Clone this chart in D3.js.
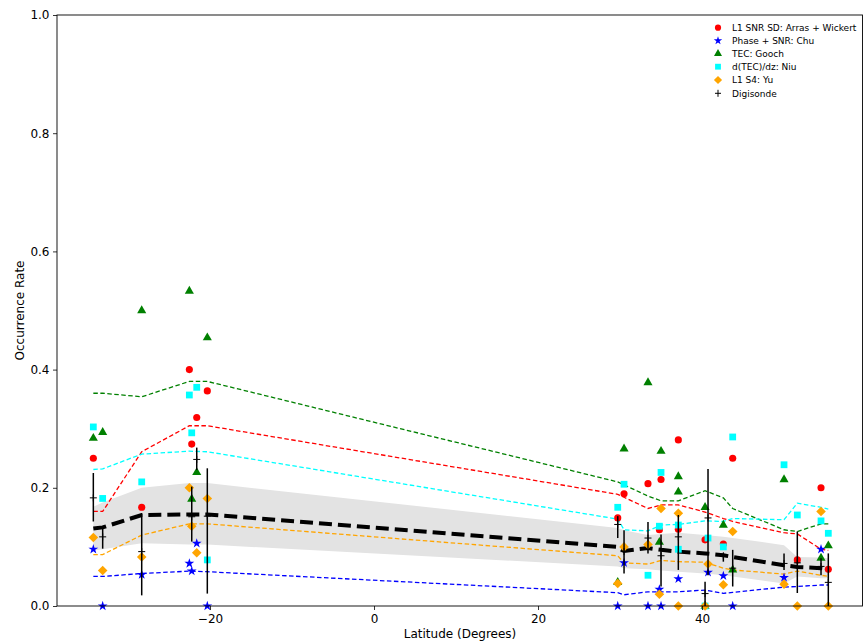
<!DOCTYPE html>
<html><head><meta charset="utf-8">
<script src="https://cdn.jsdelivr.net/npm/d3@7"></script>
<style>body{margin:0;background:#fff}svg{display:block;font-family:"DejaVu Sans",sans-serif}</style>
</head><body><svg id="c" width="863" height="644"></svg>
<script>
// Model line latitudes
const lineLat = [-34.23,-33.09,-28.33,-22.52,-20.33,29.72,30.49,33.41,35.0,37.11,40.37,42.6,43.74,50.0,51.62,54.51,55.4];
const lineRed    = [0.16,0.16,0.261,0.305,0.305,0.189,0.184,0.165,0.171,0.171,0.159,0.148,0.143,0.124,0.122,0.096,0.094];
const lineBlue   = [0.05,0.05,0.055,0.059,0.058,0.0225,0.019,0.024,0.024,0.024,0.027,0.0215,0.023,0.032,0.033,0.0355,0.0355];
const lineGreen  = [0.36,0.36,0.354,0.38,0.38,0.21,0.205,0.186,0.178,0.178,0.195,0.183,0.165,0.129,0.126,0.139,0.139];
const lineCyan   = [0.231,0.232,0.257,0.262,0.261,0.147,0.129,0.127,0.137,0.138,0.144,0.143,0.148,0.146,0.174,0.167,0.164];
const lineOrange = [0.087,0.087,0.12,0.139,0.139,0.085,0.073,0.071,0.077,0.075,0.074,0.064,0.061,0.054,0.059,0.052,0.05];
const lineMean   = [0.131,0.133,0.154,0.155,0.155,0.1,0.093,0.098,0.095,0.092,0.089,0.086,0.083,0.069,0.066,0.064,0.0625];
const bandUpper  = [0.168,0.175,0.2,0.208,0.208,0.132,0.128,0.12,0.122,0.124,0.12,0.117,0.115,0.103,0.083,0.082,0.081];
const bandLower  = [0.094,0.096,0.106,0.104,0.104,0.067,0.064,0.062,0.06,0.058,0.055,0.052,0.05,0.038,0.05,0.047,0.047];

// Observations
const redLat = [-34.23,-28.33,-22.52,-22.23,-21.62,-20.33,29.72,30.49,33.41,35.0,34.8,37.11,37.11,40.37,42.6,43.74,51.62,54.51,55.4];
const redVal = [0.25,0.167,0.40,0.274,0.319,0.364,0.149,0.190,0.207,0.214,0.129,0.281,0.130,0.112,0.105,0.250,0.078,0.200,0.062];
const blueLat = [-34.23,-33.09,-28.33,-22.52,-22.23,-21.62,-20.33,29.72,30.49,33.41,34.8,35.0,37.11,40.73,42.6,43.74,50.0,54.51];
const blueVal = [0.096,0.0,0.053,0.072,0.059,0.106,0.0,0.0,0.073,0.0,0.028,0.0,0.046,0.057,0.051,0.0,0.048,0.096];
const greenLat = [-34.23,-33.09,-28.33,-22.52,-22.23,-21.62,-20.33,29.72,30.49,33.41,35.0,34.8,37.11,37.11,40.37,40.37,42.6,43.74,50.0,54.51,55.4];
const greenVal = [0.284,0.294,0.50,0.533,0.181,0.226,0.454,0.04,0.266,0.378,0.262,0.108,0.219,0.193,0.167,0.0,0.137,0.061,0.214,0.081,0.102];
const cyanLat = [-34.23,-33.09,-28.33,-22.52,-22.23,-21.62,-20.33,29.72,30.49,33.41,35.0,34.8,37.11,37.11,40.37,40.73,42.6,43.74,50.0,51.62,54.51,55.4];
const cyanVal = [0.303,0.182,0.21,0.357,0.293,0.370,0.078,0.167,0.206,0.052,0.226,0.135,0.137,0.096,0.0,0.115,0.10,0.286,0.239,0.154,0.144,0.123];
const orangeLat = [-34.23,-33.09,-28.33,-22.52,-22.23,-21.62,-20.33,29.72,30.49,33.41,35.0,34.8,37.11,37.11,40.37,40.73,42.6,43.74,50.0,51.62,54.51,55.4];
const orangeVal = [0.116,0.06,0.083,0.20,0.135,0.09,0.182,0.038,0.10,0.104,0.165,0.02,0.157,0.0,0.0,0.071,0.036,0.126,0.037,0.0,0.16,0.0];
const digiLat = [-34.23,-33.09,-28.33,-22.23,-21.62,-20.33,29.72,30.49,33.41,35.0,37.11,40.37,40.73,42.6,43.74,50.0,51.62,54.51,55.4];
const digiVal = [0.183,0.117,0.092,0.151,0.248,0.152,0.138,0.092,0.115,0.085,0.117,0.021,0.149,0.085,0.064,0.072,0.073,0.067,0.04];
const digiLo  = [0.143,0.097,0.018,0.109,0.230,0.021,0.115,0.055,0.089,0.033,0.061,0.0,0.052,0.075,0.033,0.061,0.022,0.052,0.0];
const digiHi  = [0.225,0.135,0.156,0.202,0.268,0.233,0.152,0.128,0.142,0.121,0.154,0.041,0.232,0.089,0.095,0.089,0.126,0.081,0.089];

const yTicks = [0,0.2,0.4,0.6,0.8,1.0];
const xTicks = [-20,0,20,40];
const legendLabels = ["L1 SNR SD: Arras + Wickert","Phase + SNR: Chu","TEC: Gooch","d(TEC)/dz: Niu","L1 S4: Yu","Digisonde"];

const svg = d3.select("#c");
const x = d3.scaleLinear().domain([-38.66,59.63]).range([57,863]);
const y = d3.scaleLinear().domain([0,1]).range([606,15]);

// band
const bandData = lineLat.map((l,i)=>({l, lo:bandLower[i], hi:bandUpper[i]}));
svg.append("path").datum(bandData)
  .attr("d", d3.area().x(d=>x(d.l)).y0(d=>y(d.lo)).y1(d=>y(d.hi)))
  .attr("fill","#e3e3e3");

const line = d3.line().x(d=>x(d[0])).y(d=>y(d[1]));
const series = [[lineGreen,"#008000"],[lineRed,"#ff0000"],[lineCyan,"#00ffff"],[lineOrange,"#ffa500"],[lineBlue,"#0000ff"]];
series.forEach(([vals,col])=>{
  svg.append("path").datum(lineLat.map((l,i)=>[l,vals[i]]))
    .attr("d",line).attr("fill","none").attr("stroke",col)
    .attr("stroke-width",1.3).attr("stroke-dasharray","4.5,2.5");
});
svg.append("path").datum(lineLat.map((l,i)=>[l,lineMean[i]]))
  .attr("d",line).attr("fill","none").attr("stroke","#000")
  .attr("stroke-width",4).attr("stroke-dasharray","13,6");

// scatter
function pts(lat, val, sym, size, col, rot){
  svg.append("g").selectAll("path").data(lat.map((l,i)=>[l,val[i]])).join("path")
    .attr("d", d3.symbol().type(sym).size(size))
    .attr("transform", d=>`translate(${x(d[0])},${y(d[1])})${rot?` rotate(${rot})`:""}`)
    .attr("fill", col);
}
pts(redLat, redVal, d3.symbolCircle, 40, "#ff0000");
pts(blueLat, blueVal, d3.symbolStar, 30, "#0000ff");
pts(greenLat, greenVal, d3.symbolTriangle, 36, "#008000");
pts(cyanLat, cyanVal, d3.symbolSquare, 46, "#00ffff");
pts(orangeLat, orangeVal, d3.symbolSquare, 46, "#ffa500", 45);

// digisonde
const dg = svg.append("g");
digiLat.forEach((l,i)=>{
  dg.append("line").attr("x1",x(l)).attr("x2",x(l)).attr("y1",y(digiLo[i])).attr("y2",y(digiHi[i]))
    .attr("stroke","#000").attr("stroke-width",1.5);
  dg.append("line").attr("x1",x(l)-3.5).attr("x2",x(l)+3.5).attr("y1",y(digiVal[i])).attr("y2",y(digiVal[i]))
    .attr("stroke","#000").attr("stroke-width",1);
  dg.append("line").attr("x1",x(l)).attr("x2",x(l)).attr("y1",y(digiVal[i])-3.5).attr("y2",y(digiVal[i])+3.5)
    .attr("stroke","#000").attr("stroke-width",1);
});

// axes
const xAxis = svg.append("g").attr("transform","translate(0,606)")
  .call(d3.axisBottom(x).tickValues(xTicks).tickFormat(d=>d<0?"\u2212"+Math.abs(d):d).tickSize(4).tickPadding(4));
const yAxis = svg.append("g").attr("transform","translate(57,0)")
  .call(d3.axisLeft(y).tickValues(yTicks).tickFormat(d3.format(".1f")).tickSize(4).tickPadding(3.5));
[xAxis,yAxis].forEach(a=>{
  a.select(".domain").remove();
  a.selectAll("text").attr("font-size",12).attr("font-family","DejaVu Sans").attr("fill","#000");
  a.selectAll("line").attr("stroke","#000").attr("stroke-width",0.8);
});
// spines
svg.append("rect").attr("x",57).attr("y",15).attr("width",805.5).attr("height",591)
  .attr("fill","none").attr("stroke","#000").attr("stroke-width",0.9);

svg.append("text").attr("x",460).attr("y",638).attr("text-anchor","middle")
  .attr("font-size",12).text("Latitude (Degrees)");
svg.append("text").attr("transform","translate(24,310.5) rotate(-90)").attr("text-anchor","middle")
  .attr("font-size",12).text("Occurrence Rate");

// legend
const legY = [27.7,40.7,53.7,66.7,80,93.3];
const lg = svg.append("g");
const legSyms = [[d3.symbolCircle,30,"#ff0000",0],[d3.symbolStar,22,"#0000ff",0],[d3.symbolTriangle,28,"#008000",0],[d3.symbolSquare,34,"#00ffff",0],[d3.symbolSquare,34,"#ffa500",45]];
legSyms.forEach(([s,sz,c,r],i)=>{
  lg.append("path").attr("d",d3.symbol().type(s).size(sz))
    .attr("transform",`translate(718,${legY[i]}) rotate(${r})`).attr("fill",c);
});
lg.append("line").attr("x1",715).attr("x2",721).attr("y1",legY[5]).attr("y2",legY[5]).attr("stroke","#000");
lg.append("line").attr("x1",718).attr("x2",718).attr("y1",legY[5]-3.5).attr("y2",legY[5]+3.5).attr("stroke","#000");
legendLabels.forEach((t,i)=>{
  lg.append("text").attr("x",732).attr("y",legY[i]+3.3).attr("font-size",9).text(t);
});
</script></body></html>
